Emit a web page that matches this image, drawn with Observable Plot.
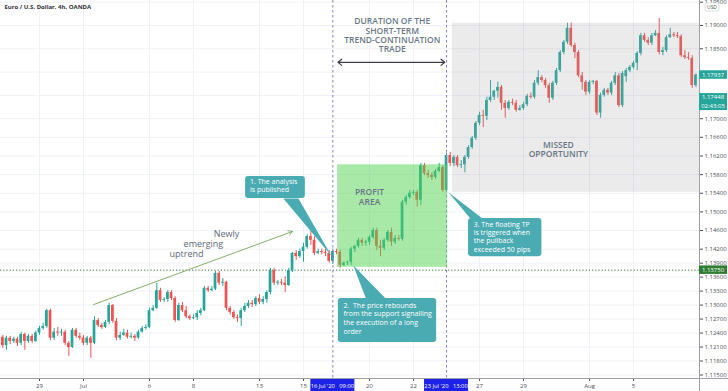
<!DOCTYPE html>
<html><head><meta charset="utf-8">
<script src="https://cdn.jsdelivr.net/npm/d3@7"></script>
<script src="https://cdn.jsdelivr.net/npm/@observablehq/plot@0.6"></script>
<style>
html,body{margin:0;padding:0;background:#fff;}
#chart svg{display:block;}
</style></head><body><div id="chart"></div>
<script>
// EUR/USD 4h candles, 26 Jun 2020 (late) .. 7 Aug 2020, indexed 0..189
const opens = [1.1231,1.1213,1.1229,1.1222,1.1227,1.1218,1.1237,1.1222,1.1233,1.1222,
1.1240,1.1250,1.1254,1.1288,1.1229,1.1242,1.1240,1.1242,1.1218,1.1209,
1.1246,1.1233,1.1229,1.1218,1.1229,1.1218,1.1267,1.1256,1.1252,1.1263,
1.1299,1.1265,1.1229,1.1235,1.1240,1.1231,1.1233,1.1229,1.1242,1.1250,
1.1252,1.1288,1.1293,1.1331,1.1310,1.1312,1.1327,1.1314,1.1267,1.1299,
1.1288,1.1275,1.1271,1.1273,1.1282,1.1288,1.1336,1.1331,1.1334,1.1368,
1.1347,1.1349,1.1293,1.1284,1.1273,1.1271,1.1288,1.1297,1.1304,1.1301,
1.1314,1.1306,1.1312,1.1327,1.1374,1.1347,1.1349,1.1347,1.1342,1.1374,
1.1411,1.1404,1.1415,1.1424,1.1447,1.1439,1.1411,1.1415,1.1413,1.1411,
1.1394,1.1415,1.1413,1.1385,1.1390,1.1392,1.1420,1.1426,1.1439,1.1433,
1.1435,1.1445,1.1460,1.1426,1.1422,1.1439,1.1456,1.1435,1.1443,1.1441,
1.1521,1.1531,1.1540,1.1542,1.1525,1.1599,1.1582,1.1578,1.1574,1.1587,
1.1595,1.1546,1.1621,1.1604,1.1617,1.1599,1.1601,1.1617,1.1638,1.1658,
1.1690,1.1707,1.1705,1.1739,1.1746,1.1759,1.1767,1.1733,1.1722,1.1735,
1.1733,1.1718,1.1722,1.1730,1.1748,1.1746,1.1776,1.1788,1.1782,1.1771,
1.1744,1.1776,1.1803,1.1842,1.1864,1.1894,1.1857,1.1842,1.1792,1.1778,
1.1757,1.1778,1.1780,1.1712,1.1750,1.1761,1.1755,1.1776,1.1792,1.1728,
1.1790,1.1803,1.1810,1.1819,1.1840,1.1878,1.1868,1.1862,1.1878,1.1883,
1.1842,1.1846,1.1874,1.1880,1.1878,1.1876,1.1835,1.1831,1.1829,1.1771];
const highs = [1.1235,1.1233,1.1233,1.1231,1.1231,1.1242,1.1240,1.1237,1.1237,1.1244,
1.1254,1.1261,1.1291,1.1291,1.1250,1.1252,1.1248,1.1246,1.1222,1.1250,
1.1250,1.1240,1.1235,1.1233,1.1233,1.1275,1.1271,1.1261,1.1267,1.1304,
1.1301,1.1271,1.1242,1.1248,1.1246,1.1240,1.1237,1.1246,1.1254,1.1258,
1.1293,1.1299,1.1347,1.1336,1.1316,1.1331,1.1331,1.1318,1.1304,1.1306,
1.1297,1.1279,1.1279,1.1288,1.1293,1.1340,1.1340,1.1340,1.1372,1.1372,
1.1357,1.1351,1.1297,1.1288,1.1279,1.1293,1.1304,1.1310,1.1310,1.1318,
1.1322,1.1318,1.1331,1.1379,1.1379,1.1353,1.1355,1.1361,1.1379,1.1413,
1.1417,1.1420,1.1433,1.1451,1.1458,1.1447,1.1420,1.1420,1.1420,1.1417,
1.1420,1.1420,1.1417,1.1392,1.1394,1.1424,1.1428,1.1443,1.1443,1.1439,
1.1449,1.1465,1.1465,1.1439,1.1443,1.1460,1.1465,1.1449,1.1449,1.1525,
1.1535,1.1546,1.1546,1.1546,1.1604,1.1604,1.1589,1.1584,1.1591,1.1604,
1.1599,1.1626,1.1628,1.1621,1.1621,1.1610,1.1621,1.1642,1.1662,1.1694,
1.1714,1.1718,1.1746,1.1782,1.1761,1.1778,1.1771,1.1739,1.1739,1.1742,
1.1739,1.1728,1.1735,1.1752,1.1755,1.1782,1.1803,1.1792,1.1786,1.1776,
1.1780,1.1808,1.1846,1.1868,1.1905,1.1905,1.1862,1.1846,1.1799,1.1782,
1.1782,1.1782,1.1782,1.1755,1.1765,1.1765,1.1780,1.1799,1.1797,1.1801,
1.1808,1.1814,1.1823,1.1844,1.1883,1.1883,1.1874,1.1883,1.1889,1.1915,
1.1853,1.1878,1.1894,1.1885,1.1885,1.1880,1.1846,1.1842,1.1835,1.1796];
const lows = [1.1207,1.1203,1.1215,1.1218,1.1211,1.1213,1.1203,1.1218,1.1218,1.1220,
1.1235,1.1246,1.1250,1.1224,1.1224,1.1233,1.1233,1.1213,1.1190,1.1207,
1.1229,1.1224,1.1213,1.1213,1.1186,1.1215,1.1252,1.1248,1.1250,1.1258,
1.1261,1.1224,1.1224,1.1233,1.1227,1.1227,1.1222,1.1227,1.1240,1.1246,
1.1250,1.1286,1.1291,1.1306,1.1306,1.1306,1.1310,1.1263,1.1265,1.1284,
1.1271,1.1267,1.1269,1.1267,1.1277,1.1286,1.1327,1.1329,1.1331,1.1342,
1.1340,1.1288,1.1279,1.1269,1.1263,1.1254,1.1284,1.1293,1.1295,1.1297,
1.1301,1.1301,1.1304,1.1322,1.1342,1.1342,1.1342,1.1327,1.1340,1.1370,
1.1396,1.1400,1.1392,1.1420,1.1428,1.1406,1.1408,1.1408,1.1404,1.1390,
1.1387,1.1408,1.1379,1.1383,1.1385,1.1385,1.1413,1.1422,1.1426,1.1426,
1.1428,1.1441,1.1417,1.1404,1.1417,1.1435,1.1426,1.1430,1.1437,1.1437,
1.1514,1.1527,1.1535,1.1510,1.1514,1.1578,1.1572,1.1567,1.1570,1.1584,
1.1542,1.1542,1.1597,1.1597,1.1595,1.1593,1.1584,1.1613,1.1634,1.1653,
1.1685,1.1681,1.1696,1.1735,1.1739,1.1744,1.1718,1.1701,1.1718,1.1728,
1.1714,1.1716,1.1718,1.1726,1.1742,1.1742,1.1771,1.1778,1.1765,1.1733,
1.1739,1.1771,1.1799,1.1837,1.1859,1.1853,1.1829,1.1788,1.1761,1.1750,
1.1752,1.1773,1.1707,1.1701,1.1746,1.1750,1.1750,1.1771,1.1724,1.1724,
1.1778,1.1799,1.1806,1.1803,1.1835,1.1864,1.1857,1.1857,1.1876,1.1837,
1.1835,1.1842,1.1872,1.1874,1.1872,1.1831,1.1827,1.1825,1.1765,1.1767];
const closes = [1.1213,1.1229,1.1222,1.1227,1.1218,1.1237,1.1222,1.1233,1.1222,1.1240,
1.1250,1.1254,1.1288,1.1229,1.1242,1.1240,1.1242,1.1218,1.1209,1.1246,
1.1233,1.1229,1.1218,1.1229,1.1218,1.1267,1.1256,1.1252,1.1263,1.1299,
1.1265,1.1229,1.1235,1.1240,1.1231,1.1233,1.1229,1.1242,1.1250,1.1252,
1.1288,1.1293,1.1331,1.1310,1.1312,1.1327,1.1314,1.1267,1.1299,1.1288,
1.1275,1.1271,1.1273,1.1282,1.1288,1.1336,1.1331,1.1334,1.1368,1.1347,
1.1349,1.1293,1.1284,1.1273,1.1271,1.1288,1.1297,1.1304,1.1301,1.1314,
1.1306,1.1312,1.1327,1.1374,1.1347,1.1349,1.1347,1.1342,1.1374,1.1411,
1.1404,1.1415,1.1424,1.1447,1.1439,1.1411,1.1415,1.1413,1.1411,1.1394,
1.1415,1.1413,1.1385,1.1390,1.1392,1.1420,1.1426,1.1439,1.1433,1.1435,
1.1445,1.1460,1.1426,1.1422,1.1439,1.1456,1.1435,1.1443,1.1441,1.1521,
1.1531,1.1540,1.1542,1.1525,1.1599,1.1582,1.1578,1.1574,1.1587,1.1595,
1.1546,1.1621,1.1604,1.1617,1.1599,1.1601,1.1617,1.1638,1.1658,1.1690,
1.1707,1.1705,1.1739,1.1746,1.1759,1.1767,1.1733,1.1722,1.1735,1.1733,
1.1718,1.1722,1.1730,1.1748,1.1746,1.1776,1.1788,1.1782,1.1771,1.1744,
1.1776,1.1803,1.1842,1.1864,1.1894,1.1857,1.1842,1.1792,1.1778,1.1757,
1.1778,1.1780,1.1712,1.1750,1.1761,1.1755,1.1776,1.1792,1.1728,1.1797,
1.1803,1.1810,1.1819,1.1840,1.1878,1.1868,1.1862,1.1878,1.1883,1.1842,
1.1846,1.1874,1.1880,1.1878,1.1876,1.1835,1.1831,1.1829,1.1771,1.17937];

const priceTicks = [1.195,1.19,1.185,1.17,1.166,1.162,1.158,1.154,1.15,1.146,1.142,1.139,1.136,1.133,1.13,1.127,1.124,1.121,1.118,1.115];
const gridPrices = [1.195,1.19,1.185,1.18,1.175,1.17,1.166,1.162,1.158,1.154,1.15,1.146,1.142,1.139,1.136,1.133,1.13,1.127,1.124,1.121,1.118,1.115];
const dateTicks = [10,22,40,52,70,82,100,112,130,142,160,172];
const dateLabels = ["29","Jul","6","8","13","15","20","22","27","29","Aug","5"];
const supportLevel = 1.1375;
const analysisBar = 90, triggerBar = 121;
const analysisLabel = "16 Jul '20   09:00", triggerLabel = "23 Jul '20   13:00";
const lastPrice = 1.17937, midPrice = 1.17448, countdown = "02:43:05";

const UP = "#26a69a", DOWN = "#ef5350", CALL = "#4aabb3", NOTE = "#697786";
const candles = opens.map((o, i) => ({i, o, h: highs[i], l: lows[i], c: closes[i], col: closes[i] >= o ? UP : DOWN}));

const chart = Plot.plot({
  width: 728, height: 391,
  marginLeft: 0, marginRight: 29, marginTop: 0, marginBottom: 13,
  x: {domain: [-0.635, 189.98]},
  y: {domain: [1.11425, 1.19536]},
  style: {fontFamily: "'Open Sans', sans-serif", background: "#fff", overflow: "visible"},
  marks: [
    Plot.gridY({ticks: gridPrices, stroke: "#eef1f6", strokeOpacity: 1}),
    Plot.gridX({ticks: dateTicks, stroke: "#eef1f6", strokeOpacity: 1}),
    Plot.axisY({ticks: priceTicks, anchor: "right", tickSize: 3, tickPadding: 2, tickFormat: d3.format(".5f"), fontSize: 6, color: "#4a4e58", label: null}),
    Plot.axisX({ticks: dateTicks, anchor: "bottom", tickSize: 3, tickPadding: 2, tickFormat: d => dateLabels[dateTicks.indexOf(d)], fontSize: 6, color: "#4a4e58", label: null}),
    Plot.ruleY([supportLevel], {stroke: "#2e6b2e", strokeDasharray: "1.2,2", strokeWidth: 1}),
    Plot.ruleX(candles, {x: "i", y1: "l", y2: "h", stroke: "col", strokeWidth: 1}),
    Plot.rect(candles, {x1: d => d.i - 0.37, x2: d => d.i + 0.37, y1: "o", y2: "c", fill: "col"}),
    Plot.ruleX([analysisBar, triggerBar], {stroke: "#7f80c6", strokeDasharray: "2.5,2.5", strokeWidth: 1}),
    // missed opportunity box
    Plot.rect([{x1: 122.6, x2: 189.98, y1: 1.1542, y2: 1.1905}], {x1: "x1", x2: "x2", y1: "y1", y2: "y2", fill: "#9a9aa0", fillOpacity: 0.2}),
    Plot.text(["MISSED\nOPPORTUNITY"], {x: 151.5, y: 1.1634, text: d => d, fill: NOTE, fontSize: 8.5, fontWeight: 600, lineHeight: 1.12}),
    // profit area box
    Plot.rect([{x1: 91.3, x2: 121.3, y1: 1.1381, y2: 1.1601}], {x1: "x1", x2: "x2", y1: "y1", y2: "y2", fill: "#52d452", fillOpacity: 0.5}),
    Plot.text(["PROFIT\nAREA"], {x: 100.0, y: 1.1533, text: d => d, fill: NOTE, fontSize: 8.5, fontWeight: 600, lineHeight: 1.15}),
    // duration
    Plot.text(["DURATION OF THE\nSHORT-TERM\nTREND-CONTINUATION\nTRADE"], {x: 106.2, y: 1.1879, text: d => d, fill: NOTE, fontSize: 8.5, fontWeight: 600, lineHeight: 1.1}),
    Plot.arrow([{x1: 106, x2: 91.4, y: 1.1821}, {x1: 106, x2: 120.5, y: 1.1821}], {x1: "x1", x2: "x2", y1: "y", y2: "y", stroke: "#3c3f45", strokeWidth: 1.2, headLength: 6, headAngle: 80}),
    // trend arrow
    Plot.arrow([{x1: 24.7, y1: 1.1301, x2: 79.0, y2: 1.1458}], {x1: "x1", y1: "y1", x2: "x2", y2: "y2", stroke: "#86ad66", strokeWidth: 1, headLength: 7, headAngle: 60}),
    Plot.text([{x: 61.0, y: 1.1452, t: "Newly"}, {x: 54.7, y: 1.1431, t: "emerging"}, {x: 50.1, y: 1.1410, t: "uptrend"}], {x: "x", y: "y", text: "t", fill: "#5b6878", fontSize: 9}),
    // callout 1
    Plot.line([{x: 76.5, y: 1.1529}, {x: 80.6, y: 1.1529}, {x: 89.6, y: 1.1406}], {x: "x", y: "y", fill: CALL, stroke: "none"}),
    Plot.rect([{x1: 66.2, x2: 82.5, y1: 1.1529, y2: 1.1576}], {x1: "x1", x2: "x2", y1: "y1", y2: "y2", fill: CALL, rx: 3}),
    Plot.text(["1. The analysis\nis published"], {x: 67.4, y: 1.1571, text: d => d, fill: "#fff", fontSize: 7, lineAnchor: "top", textAnchor: "start", lineHeight: 1.1}),
    // callout 2
    Plot.line([{x: 95.6, y: 1.1385}, {x: 99.0, y: 1.1314}, {x: 104.4, y: 1.1314}], {x: "x", y: "y", fill: CALL, stroke: "none"}),
    Plot.rect([{x1: 91.5, x2: 118.3, y1: 1.1220, y2: 1.1314}], {x1: "x1", x2: "x2", y1: "y1", y2: "y2", fill: CALL, rx: 3}),
    Plot.text(["2.  The price rebounds\nfrom the support signalling\nthe execution of a long\norder"], {x: 92.9, y: 1.1308, text: d => d, fill: "#fff", fontSize: 7, lineAnchor: "top", textAnchor: "start", lineHeight: 1.25}),
    // callout 3
    Plot.line([{x: 121.5, y: 1.1542}, {x: 127.5, y: 1.1486}, {x: 130.8, y: 1.1486}], {x: "x", y: "y", fill: CALL, stroke: "none"}),
    Plot.rect([{x1: 127.0, x2: 147.0, y1: 1.1404, y2: 1.1486}], {x1: "x1", x2: "x2", y1: "y1", y2: "y2", fill: CALL, rx: 3}),
    Plot.text(["3. The floating TP\nis triggered when\nthe pullback\nexceeded 50 pips"], {x: 128.4, y: 1.1481, text: d => d, fill: "#fff", fontSize: 7, lineAnchor: "top", textAnchor: "start", lineHeight: 1.2}),
    // title
    Plot.text(["Euro / U.S. Dollar, 4h, OANDA"], {frameAnchor: "top-left", dx: 4, dy: 4, text: d => d, fill: "#2f3238", fontSize: 6, fontWeight: 700, lineAnchor: "top"})
  ]
});
document.getElementById("chart").appendChild(chart);

const sx = chart.scale("x"), sy = chart.scale("y");
const svg = d3.select(chart);
svg.append("line").attr("x1", 0).attr("x2", 728).attr("y1", 378.5).attr("y2", 378.5).attr("stroke", "#9ea1aa");
svg.append("line").attr("x1", 699.5).attr("x2", 699.5).attr("y1", 0).attr("y2", 391).attr("stroke", "#9ea1aa");

function tag(p, lines, fill) {
  const y = sy.apply(p);
  const h = 8.5 * lines.length;
  svg.append("rect").attr("x", 699).attr("y", y - 4.25).attr("width", 28).attr("height", h).attr("fill", fill);
  lines.forEach((t, k) => svg.append("text").attr("x", 713).attr("y", y + k * 8.5).attr("dy", "0.35em")
    .attr("text-anchor", "middle").attr("fill", "#fff").attr("font-size", 6).attr("font-family", "'Open Sans', sans-serif").text(t));
}
tag(lastPrice, [d3.format(".5f")(lastPrice)], UP);
tag(midPrice, [d3.format(".5f")(midPrice), countdown], UP);
tag(supportLevel, [d3.format(".5f")(supportLevel)], "#2e7d32");

function marker(i, label) {
  const x = sx.apply(i);
  svg.append("rect").attr("x", x - 22).attr("y", 379).attr("width", 44).attr("height", 12).attr("fill", "#1c22e8");
  svg.append("text").attr("x", x).attr("y", 385.5).attr("dy", "0.35em").attr("text-anchor", "middle")
    .attr("fill", "#fff").attr("font-size", 5.8).attr("font-family", "'Open Sans', sans-serif").attr("xml:space", "preserve").style("white-space", "pre").text(label);
}
marker(analysisBar, analysisLabel);
marker(triggerBar, triggerLabel);

svg.append("rect").attr("x", 705).attr("y", 3).attr("width", 14).attr("height", 8).attr("rx", 2).attr("fill", "#fff").attr("stroke", "#c8cbd2").attr("stroke-width", 0.6);
svg.append("text").attr("x", 712).attr("y", 7).attr("dy", "0.35em").attr("text-anchor", "middle").attr("font-size", 5).attr("fill", "#555").attr("font-family", "'Open Sans', sans-serif").text("USD");
</script></body></html>
